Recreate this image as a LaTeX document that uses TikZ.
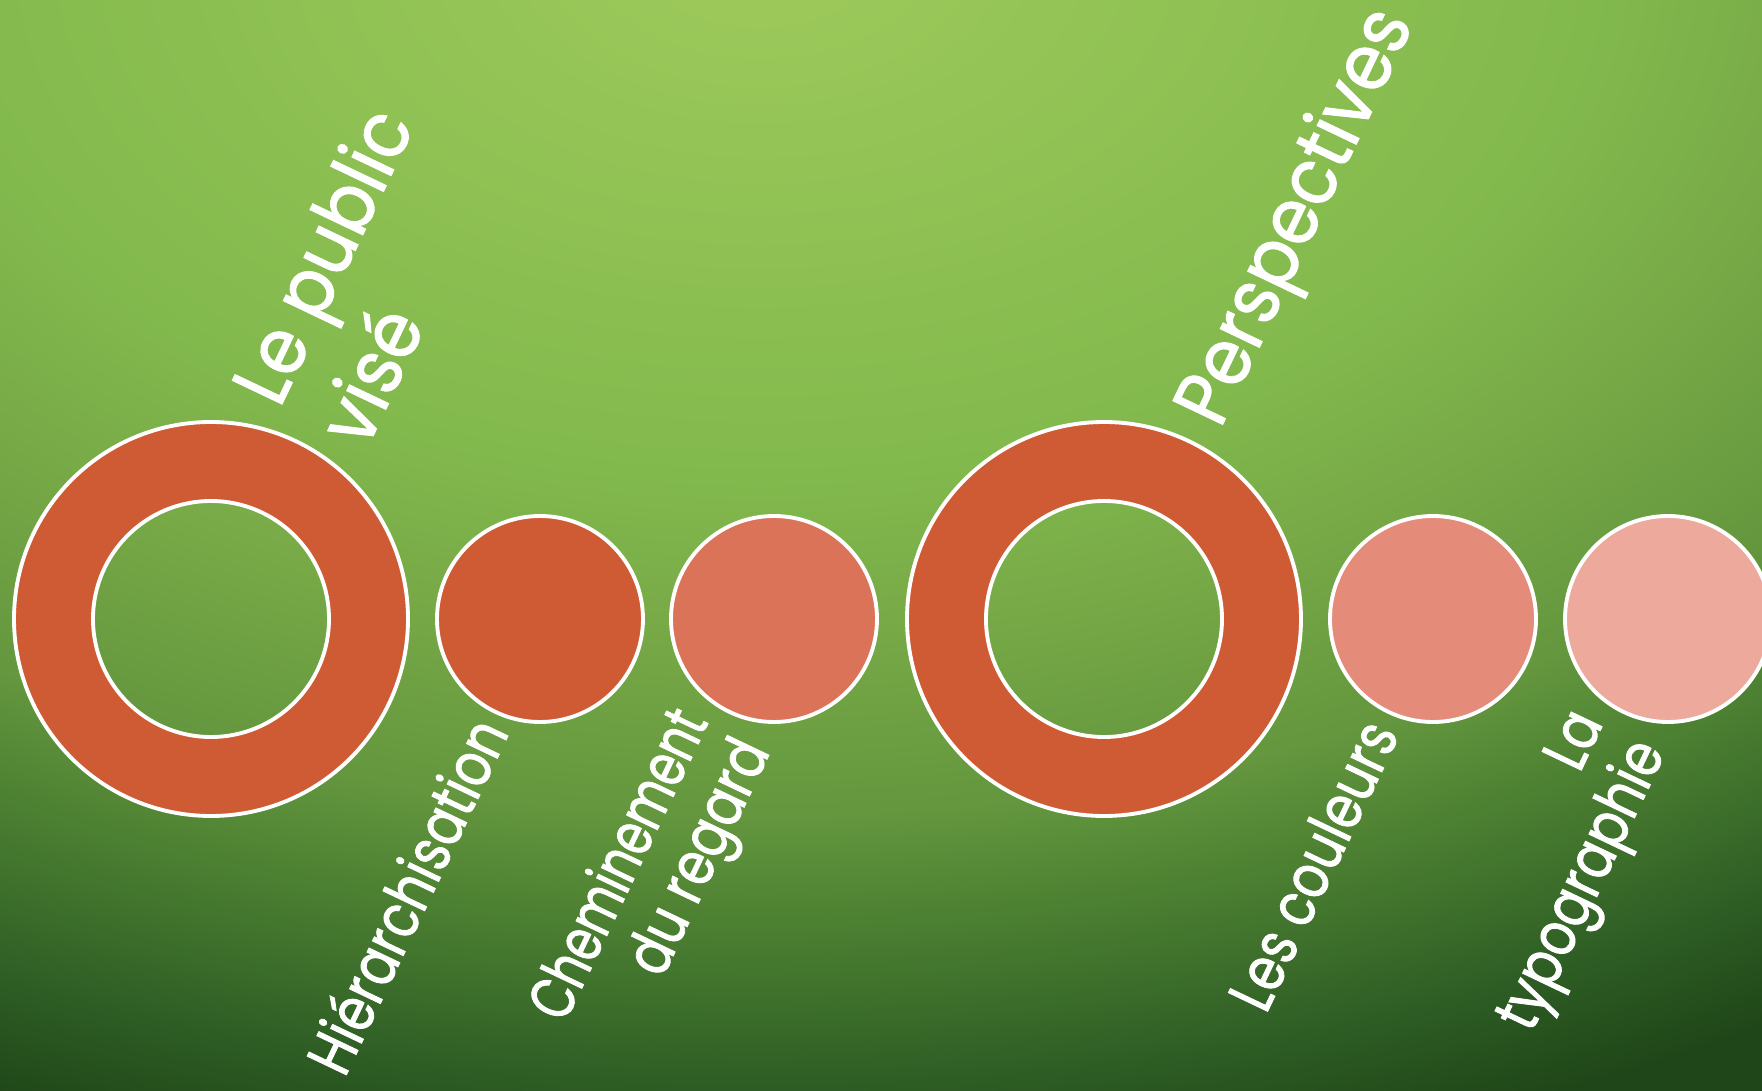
\documentclass[tikz,border=0pt]{standalone}
\usepackage{fontspec}
\setmainfont{Poppins}
\newfontfamily\labelfont[FakeStretch=0.9, FakeBold=1.3]{Poppins}
\newfontfamily\sublabelfont[FakeStretch=0.81, FakeBold=1.3]{Poppins}
\newfontfamily\narrowlabelfont[FakeStretch=0.74, FakeBold=1.3]{Poppins}
\usetikzlibrary{positioning}

\definecolor{ringred}{HTML}{CF5B34}
\definecolor{dotA}{HTML}{CF5B34}
\definecolor{dotB}{HTML}{DB7358}
\definecolor{dotC}{HTML}{E48B79}
\definecolor{dotD}{HTML}{EDA99B}
\definecolor{glowA}{HTML}{9FCA5B}
\definecolor{glowB}{HTML}{82B94D}
\definecolor{glowC}{HTML}{78AA47}
\definecolor{glowD}{HTML}{64973E}
\definecolor{glowE}{HTML}{4F8333}
\definecolor{glowF}{HTML}{2F5F25}
\definecolor{glowG}{HTML}{1F4618}

% the path box is mapped on the inner 50bp square of the shading
\pgfdeclareradialshading{meadow}{\pgfpointorigin}{color(0bp)=(glowA); color(11bp)=(glowB); color(14bp)=(glowC); color(18bp)=(glowD); color(20bp)=(glowE); color(23.5bp)=(glowF); color(26bp)=(glowG); color(50bp)=(glowG)}

\tikzset{
  ringfill/.style={fill=ringred, even odd rule},
  ringline/.style={draw=white, line width=1.1pt},
  dot/.style={circle, draw=white, line width=1.1pt, minimum size=20.6mm, inner sep=0pt},
  toplabel/.style={text=white, font=\labelfont\fontsize{22.5}{27.3}\selectfont, rotate=64.5, anchor=base west, align=left, inner sep=0pt},
  botlabel/.style={text=white, font=\sublabelfont\fontsize{17.8}{19.5}\selectfont, rotate=64.5, anchor=base east, align=right, inner sep=0pt}
}

\begin{document}
\begin{tikzpicture}[x=0.1mm, y=-0.1mm]
    \useasboundingbox (0,0) rectangle (1762,1091);
    \clip (0,0) rectangle (1762,1091);
    \shade[shading=meadow] (-1140,-1250) rectangle (2660,1150);

    % big rings
    \coordinate (pub) at (211,619);
    \coordinate (pers) at (1104,619);
    \fill[ringfill] (pub) circle[radius=197] circle[radius=118];
    \draw[ringline] (pub) circle[radius=197];
    \draw[ringline] (pub) circle[radius=118];
    \fill[ringfill] (pers) circle[radius=197] circle[radius=118];
    \draw[ringline] (pers) circle[radius=197];
    \draw[ringline] (pers) circle[radius=118];

    % small circles
    \node[dot, fill=dotA] (hier) at (540,619) {};
    \node[dot, fill=dotB] (chem) at (774,619) {};
    \node[dot, fill=dotC] (coul) at (1433,619) {};
    \node[dot, fill=dotD] (typo) at (1668,619) {};

    % labels (base = last line)
    \node[toplabel] (pubtxt) at (366,451) {Le public\\visé};
    \node[toplabel] (perstxt) at (1220,430) {Perspectives};
    \node[botlabel] (hiertxt) at (510,732) {Hiérarchisation};
    \node[botlabel] (chemtxt) at (771,751) {{\narrowlabelfont Cheminement}\\du regard};
    \node[botlabel] (coultxt) at (1400,734) {Les couleurs};
    \node[botlabel] (typotxt) at (1666,752) {La\\typographie};
\end{tikzpicture}
\end{document}
